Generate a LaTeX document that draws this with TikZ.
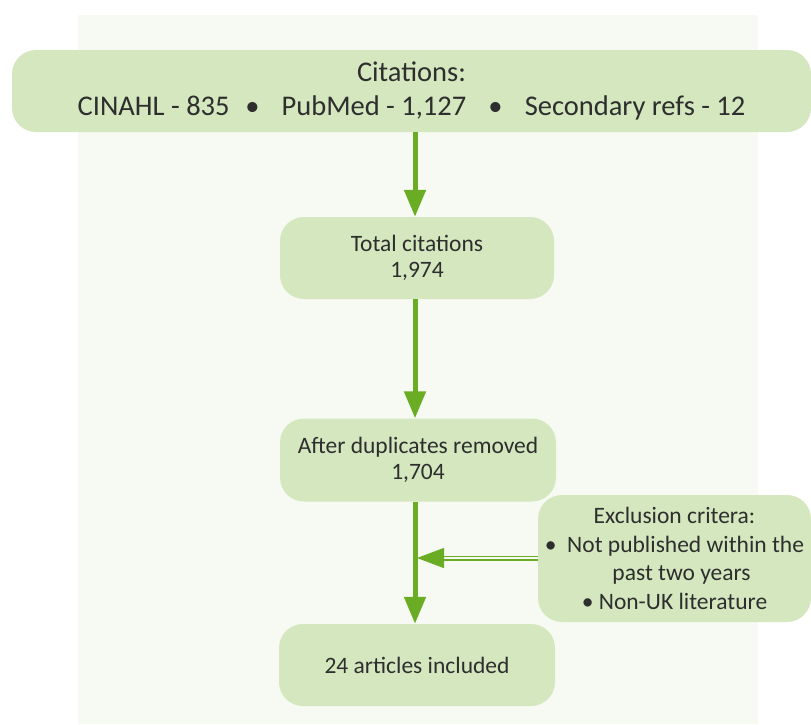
\documentclass[tikz,border=0pt]{standalone}
\usepackage{fontspec}
\setmainfont{Carlito}
\usetikzlibrary{arrows.meta}
\definecolor{boxfill}{HTML}{D4E7BE}
\definecolor{arrowgreen}{HTML}{6AAD25}
\definecolor{panel}{HTML}{F7FAF2}
\definecolor{txt}{HTML}{2E2E2E}
\begin{document}
\begin{tikzpicture}[x=1pt,y=-1pt,
  flowbox/.style={fill=boxfill, rounded corners=24pt, text=txt, align=center, inner sep=0pt},
  mainarrow/.style={draw=arrowgreen, line width=5pt, -{Triangle[length=27pt,width=21pt]}},
  sidearrow/.style={draw=arrowgreen, double=panel, line width=1.3pt, double distance=2.4pt, -{Triangle[length=27pt,width=20pt,fill=arrowgreen]}}
]
\useasboundingbox (0,0) rectangle (811,724);
\fill[panel] (78,15) rectangle (758,724);
% boxes
\node[flowbox, minimum width=799pt, minimum height=82pt, font=\fontsize{28.5}{34}\selectfont] (cit) at (411.5,91)
  {Citations:\\CINAHL - 835\hspace{0.55em}\textbullet\hspace{0.55em} PubMed - 1,127\hspace{0.55em} \textbullet\hspace{0.55em} Secondary refs - 12};
\node[flowbox, minimum width=274pt, minimum height=82pt, font=\fontsize{23.5}{26}\selectfont] (tot) at (417,258)
  {Total citations\\1,974};
\node[flowbox, minimum width=276pt, minimum height=83pt, font=\fontsize{23.5}{26}\selectfont] (dup) at (418,460)
  {After duplicates removed\\1,704};
\node[flowbox, minimum width=276pt, minimum height=82pt, font=\fontsize{23.5}{26}\selectfont] (inc) at (417,665)
  {24 articles included};
\node[flowbox, minimum width=273pt, minimum height=127pt, font=\fontsize{23.5}{28.5}\selectfont] (exc) at (674.5,558.5)
  {Exclusion critera:\\\textbullet\hspace{0.45em}Not published within the\\\hspace{0.6em}past two years\\\textbullet\ Non-UK literature};
% connectors
\coordinate (join) at (417,558);
\draw[mainarrow] (cit.south -| 415,0) -- (tot.north -| 415,0);
\draw[mainarrow] (tot.south -| 415,0) -- (dup.north -| 415,0);
\draw[mainarrow] (dup.south -| 415,0) -- (inc.north -| 415,0);
\draw[sidearrow] (exc.west |- join) -- (join);
\end{tikzpicture}
\end{document}
